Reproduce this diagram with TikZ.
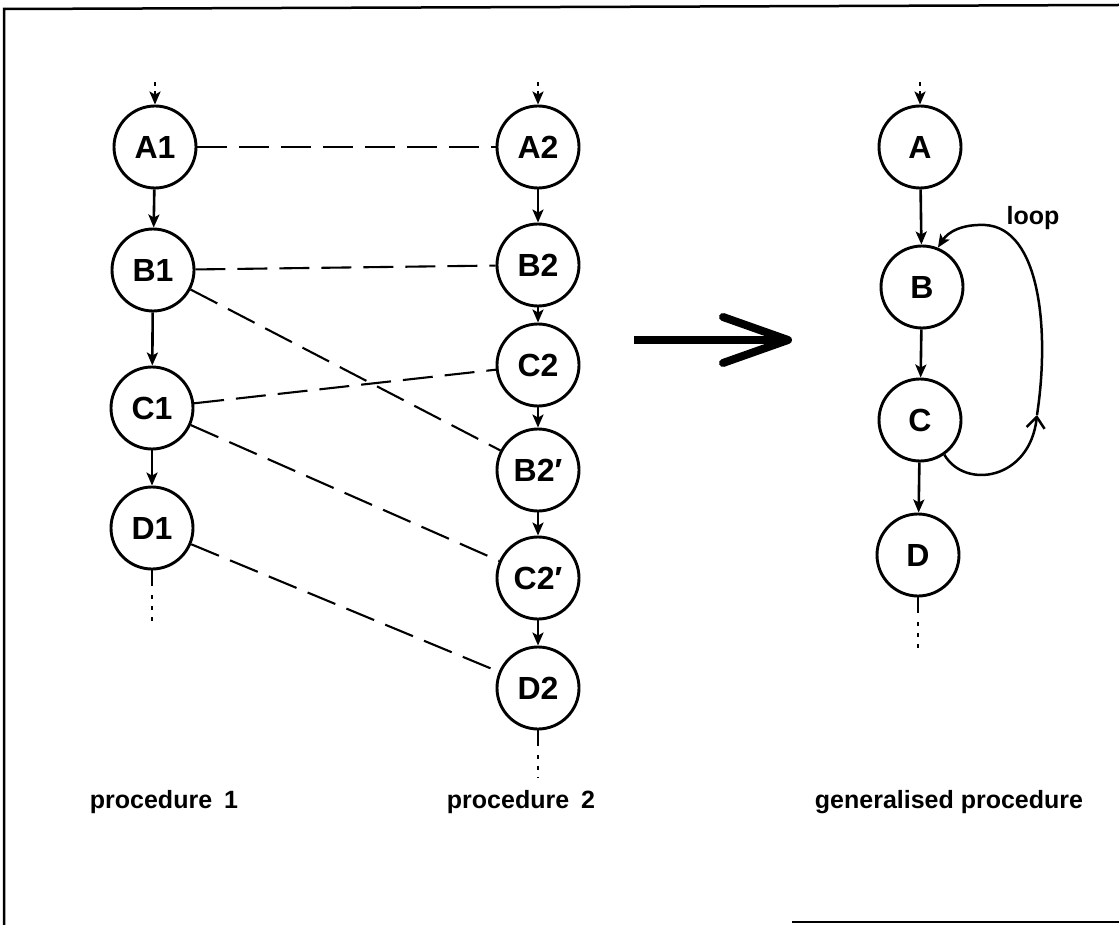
\documentclass[tikz,border=0pt]{standalone}
\usepackage{fontspec}
\setmainfont{Liberation Sans}
\usetikzlibrary{arrows.meta}
\begin{document}
\begin{tikzpicture}[x=1pt,y=-1pt,
  st/.style={circle,draw,line width=2.9pt,minimum size=82pt,inner sep=0pt,font=\fontsize{32}{36}\selectfont\bfseries},
  flow/.style={line width=2.6pt,-{Stealth[length=13pt,width=11pt,inset=3pt]}},
  link/.style={line width=2.1pt,dash pattern=on 30pt off 12pt},
  into/.style={line width=2.3pt,dash pattern=on 4pt off 5pt,-{Stealth[length=13pt,width=11pt,inset=3pt]}},
  tail/.style={line width=2.5pt,dash pattern=on 16pt off 9pt on 4pt off 7pt on 4pt off 7pt on 4pt off 200pt},
  lbl/.style={font=\fontsize{25}{29}\selectfont\bfseries,anchor=base,inner sep=0pt}]
\useasboundingbox (0,0) rectangle (1119,925);
% frame
\draw[line width=2.5pt] (1119,5) -- (4,9) -- (4,925);
\draw[line width=2.5pt] (792,922) -- (1119,922);
% column 1
\node[st] (A1) at (155,147) {A1};
\node[st] (B1) at (153,270) {B1};
\node[st] (C1) at (152,408) {C1};
\node[st] (D1) at (152,528) {D1};
% column 2
\node[st] (A2) at (538,147) {A2};
\node[st] (B2) at (538,265) {B2};
\node[st] (C2) at (538,365) {C2};
\node[st] (B2p) at (538,470) {B2′};
\node[st] (C2p) at (538,578) {C2′};
\node[st] (D2) at (538,688) {D2};
% column 3
\node[st] (A) at (920,147) {A};
\node[st] (B) at (922,287) {B};
\node[st] (C) at (920,420) {C};
\node[st] (D) at (918,555) {D};
% incoming / outgoing
\coordinate (t1) at (155,82);
\coordinate (t2) at (538,82);
\coordinate (t3) at (920,82);
\coordinate (b1) at (152,625);
\coordinate (b2) at (538,778);
\coordinate (b3) at (918,650);
\draw[into] (t1) -- (A1);
\draw[into] (t2) -- (A2);
\draw[into] (t3) -- (A);
\draw[tail] (D1.south) -- (b1);
\draw[tail] (D2.south) -- (b2);
\draw[tail] (D.south) -- (b3);
% flows
\draw[flow] (A1) -- (B1);
\draw[flow] (B1) -- (C1);
\draw[flow] (C1) -- (D1);
\draw[flow] (A2) -- (B2);
\draw[flow] (B2) -- (C2);
\draw[flow] (C2) -- (B2p);
\draw[flow] (B2p) -- (C2p);
\draw[flow] (C2p) -- (D2);
\draw[flow] (A) -- (B);
\draw[flow] (B) -- (C);
\draw[flow] (C) -- (D);
% correspondences
\draw[link] (A1) -- (A2);
\draw[link] (B1) -- (B2);
\draw[link] (B1) -- (B2p);
\draw[link] (C1) -- (C2);
\draw[link] (C1) -- (C2p);
\draw[link] (D1) -- (D2);
% loop
\coordinate (m) at (1037,415);
\draw[line width=2.5pt,-{Straight Barb[length=11pt,width=18pt]}] (C.-55) .. controls (965,490) and (1030,480) .. (m);
\draw[line width=2.5pt,-{Stealth[length=13pt,width=11pt,inset=3pt]}] (m) .. controls (1050,330) and (1040,228) .. (985,225) .. controls (962,224) and (948,232) .. (B.68);
\node[lbl] (loop) at (1033,225) {loop};
% big arrow
\coordinate (g0) at (634,340);
\coordinate (g1) at (788,340);
\coordinate (g2) at (723,317);
\coordinate (g3) at (723,363);
\draw[line width=8pt] (g0) -- (g1);
\draw[line width=8pt,line cap=round,line join=round] (g2) -- (g1) -- (g3);
% captions
\node[lbl] (p1) at (164,808) {procedure\hspace{12pt}1};
\node[lbl] (p2) at (521,808) {procedure\hspace{12pt}2};
\node[lbl] (p3) at (949,808) {generalised procedure};
\end{tikzpicture}
\end{document}
